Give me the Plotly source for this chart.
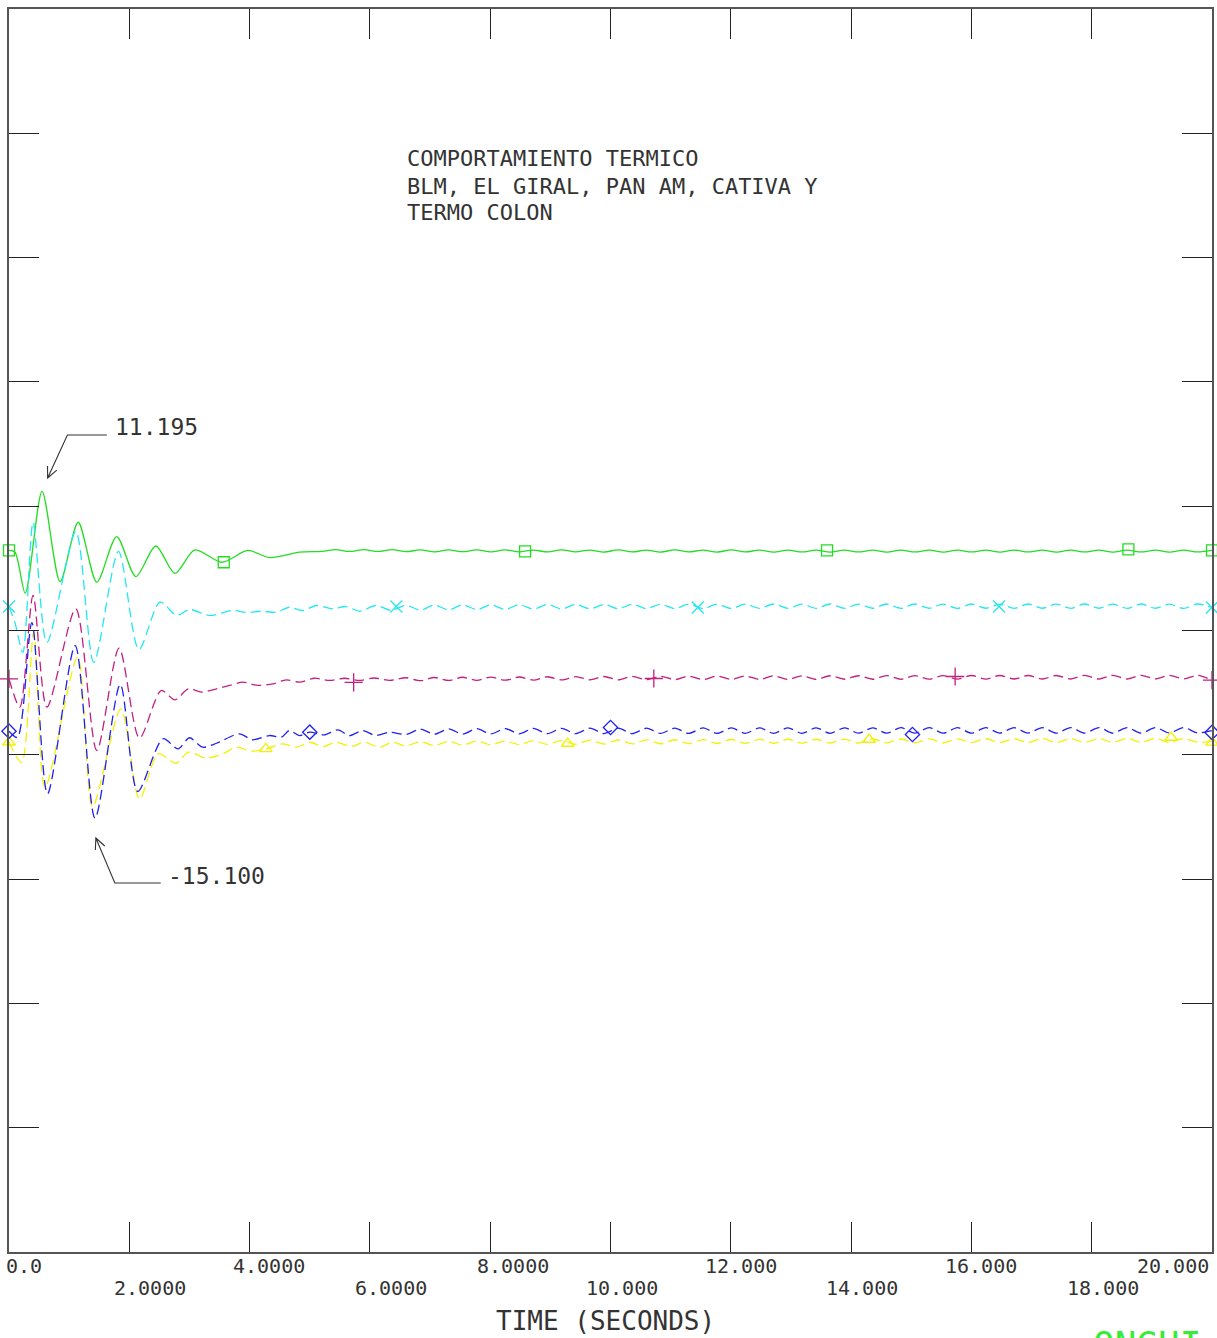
import plotly.graph_objects as go

# ---------------- data ----------------
# transient parts (time in s, value)
green_t = [0.00, 0.10, 0.27, 0.55, 0.85, 1.15, 1.46, 1.79, 2.11, 2.44, 2.76, 3.09, 3.54, 3.97, 4.33, 4.83,
           5.20, 5.43, 5.66, 5.90, 6.13, 6.37]
green_v = [6.44, 6.30, 3.00, 11.195, 3.94, 8.71, 3.89, 7.56, 4.34, 6.80, 4.60, 6.48, 5.49, 6.44, 5.87, 6.30,
           6.36, 6.50, 6.36, 6.50, 6.36, 6.50]

cyan_t = [0.00, 0.10, 0.23, 0.40, 0.63, 1.11, 1.41, 1.82, 2.16, 2.51, 2.79, 3.00, 3.34, 3.72, 3.95, 4.20,
          4.45, 4.66, 4.88, 5.11, 5.38, 5.60, 5.83, 6.10, 6.35]
cyan_v = [1.93, 0.60, -1.77, 8.69, -0.97, 7.96, -2.57, 6.36, -1.53, 2.28, 1.21, 1.69, 1.21, 1.61, 1.45, 1.55,
          1.47, 1.87, 1.61, 2.01, 1.75, 1.93, 1.55, 2.01, 1.62]

magenta_t = [0.00, 0.18, 0.40, 0.63, 1.11, 1.46, 1.83, 2.17, 2.53, 2.76, 2.98, 3.20, 3.45, 3.67, 3.89, 4.14,
             4.39, 4.61, 4.83, 5.08, 5.33, 5.58, 5.83, 6.07, 6.33]
magenta_v = [-3.89, -6.17, 2.82, -6.17, 1.75, -9.65, -1.41, -8.65, -4.83, -5.58, -4.69, -4.96, -4.69, -4.42,
             -4.16, -4.42, -4.29, -3.97, -4.16, -3.84, -4.02, -3.84, -4.02, -3.82, -4.02]

blue_t = [0.00, 0.14, 0.38, 0.64, 1.10, 1.43, 1.85, 2.14, 2.56, 2.81, 3.00, 3.22, 3.45, 3.83, 4.05, 4.33,
          4.53, 4.66, 4.83, 5.00, 5.24, 5.47, 5.66, 5.88, 6.10, 6.32]
blue_v = [-8.10, -8.60, 0.64, -13.14, -1.21, -15.10, -4.34, -12.95, -8.71, -9.52, -8.63, -9.39, -9.07, -8.31,
          -8.79, -8.45, -8.58, -8.05, -8.45, -8.18, -8.40, -7.99, -8.45, -8.05, -8.45, -8.18]

yellow_t = [0.00, 0.21, 0.41, 0.60, 1.14, 1.39, 1.86, 2.17, 2.48, 2.78, 2.98, 3.28, 3.56, 3.78, 4.03, 4.28,
            4.55, 4.78, 5.00, 5.22, 5.44, 5.69, 5.91, 6.16, 6.38]
yellow_v = [-8.99, -10.62, -0.16, -12.61, -2.15, -14.16, -6.30, -13.54, -9.92, -10.68, -9.79, -10.26, -9.92,
            -9.39, -9.71, -9.52, -9.12, -9.39, -8.99, -9.33, -8.99, -9.33, -8.99, -9.39, -8.99]

# steady-state ripple extrema (shared time grid)
steady_t = [6.60, 6.84, 7.07, 7.31, 7.54, 7.78, 8.01, 8.25, 8.48, 8.72,
            8.95, 9.19, 9.42, 9.66, 9.89, 10.13, 10.36, 10.60, 10.83, 11.07,
            11.30, 11.54, 11.77, 12.01, 12.24, 12.48, 12.71, 12.95, 13.18, 13.42,
            13.65, 13.89, 14.12, 14.36, 14.59, 14.83, 15.06, 15.30, 15.53, 15.77,
            16.00, 16.24, 16.47, 16.71, 16.94, 17.18, 17.41, 17.65, 17.88, 18.12,
            18.35, 18.59, 18.82, 19.06, 19.29, 19.53, 19.76, 20.00]
green_steady = [6.34, 6.49, 6.33, 6.48, 6.34, 6.49, 6.32, 6.48, 6.33, 6.47,
                6.32, 6.48, 6.33, 6.47, 6.31, 6.48, 6.32, 6.47, 6.31, 6.48,
                6.32, 6.47, 6.31, 6.48, 6.32, 6.47, 6.31, 6.46, 6.32, 6.47,
                6.31, 6.47, 6.32, 6.46, 6.31, 6.47, 6.32, 6.46, 6.31, 6.47,
                6.32, 6.46, 6.31, 6.47, 6.32, 6.46, 6.31, 6.47, 6.32, 6.46,
                6.31, 6.47, 6.32, 6.46, 6.31, 6.47, 6.32, 6.44]
cyan_steady = [2.02, 1.64, 2.04, 1.66, 2.06, 1.68, 2.07, 1.70, 2.08, 1.72,
               2.09, 1.73, 2.10, 1.74, 2.10, 1.75, 2.11, 1.76, 2.11, 1.76,
               2.12, 1.77, 2.12, 1.77, 2.12, 1.78, 2.13, 1.78, 2.12, 1.78,
               2.13, 1.78, 2.12, 1.79, 2.13, 1.78, 2.13, 1.79, 2.12, 1.78,
               2.13, 1.79, 2.12, 1.78, 2.13, 1.79, 2.12, 1.78, 2.13, 1.79,
               2.12, 1.78, 2.13, 1.79, 2.12, 1.78, 2.13, 1.85]
magenta_steady = [-3.80, -4.04, -3.78, -4.02, -3.76, -4.01, -3.75, -4.00, -3.74, -3.99,
                  -3.72, -3.98, -3.71, -3.97, -3.70, -3.97, -3.69, -3.96, -3.68, -3.95,
                  -3.67, -3.95, -3.66, -3.94, -3.66, -3.94, -3.65, -3.93, -3.65, -3.93,
                  -3.64, -3.92, -3.64, -3.92, -3.63, -3.92, -3.63, -3.91, -3.63, -3.91,
                  -3.62, -3.91, -3.62, -3.90, -3.62, -3.90, -3.62, -3.90, -3.61, -3.90,
                  -3.61, -3.90, -3.61, -3.89, -3.61, -3.89, -3.61, -3.99]
blue_steady = [-8.36, -7.94, -8.34, -7.92, -8.33, -7.90, -8.32, -7.89, -8.31, -7.88,
               -8.30, -7.87, -8.30, -7.86, -8.29, -7.86, -8.29, -7.85, -8.28, -7.85,
               -8.28, -7.84, -8.28, -7.84, -8.27, -7.84, -8.27, -7.83, -8.27, -7.83,
               -8.27, -7.83, -8.26, -7.83, -8.26, -7.82, -8.26, -7.82, -8.26, -7.82,
               -8.26, -7.82, -8.25, -7.82, -8.25, -7.81, -8.25, -7.81, -8.25, -7.81,
               -8.25, -7.81, -8.25, -7.81, -8.24, -7.81, -8.24, -8.05]
yellow_steady = [-9.28, -8.94, -9.25, -8.92, -9.22, -8.90, -9.20, -8.88, -9.18, -8.86,
                 -9.16, -8.84, -9.15, -8.82, -9.13, -8.81, -9.12, -8.80, -9.11, -8.79,
                 -9.10, -8.78, -9.09, -8.77, -9.08, -8.76, -9.07, -8.75, -9.06, -8.75,
                 -9.05, -8.74, -9.05, -8.73, -9.04, -8.73, -9.03, -8.72, -9.03, -8.72,
                 -9.02, -8.71, -9.02, -8.71, -9.01, -8.70, -9.01, -8.70, -9.00, -8.70,
                 -9.00, -8.69, -9.00, -8.69, -8.99, -8.69, -8.99, -8.92]

# symbol markers along each curve
green_mk_t = [0.00, 3.57, 8.58, 13.60, 18.61, 20.00]
green_mk_v = [6.44, 5.49, 6.36, 6.44, 6.52, 6.44]
cyan_mk_t = [0.00, 6.44, 11.45, 16.46, 20.00]
cyan_mk_v = [1.93, 1.93, 1.85, 1.93, 1.85]
magenta_mk_t = [0.00, 5.73, 10.72, 15.73, 20.00]
magenta_mk_v = [-3.89, -4.18, -3.86, -3.70, -3.99]
blue_mk_t = [0.00, 5.00, 10.00, 15.02, 20.00]
blue_mk_v = [-8.10, -8.18, -7.80, -8.37, -8.20]
yellow_mk_t = [0.00, 4.27, 9.29, 14.30, 19.32, 20.00]
yellow_mk_v = [-8.99, -9.52, -9.09, -8.77, -8.61, -9.00]

x_tick_vals = [0, 2, 4, 6, 8, 10, 12, 14, 16, 18, 20]
x_tick_text = ["0.0", "2.0000", "4.0000", "6.0000", "8.0000", "10.000",
               "12.000", "14.000", "16.000", "18.000", "20.000"]
title_lines = ["COMPORTAMIENTO TERMICO", "BLM, EL GIRAL, PAN AM, CATIVA Y", "TERMO COLON"]
max_label = "11.195"
min_label = "-15.100"
x_title = "TIME (SECONDS)"

# ---------------- layout geometry ----------------
W, H = 1217, 1338
ML, MR, MT, MB = 9, 3, 9, 86
PW, PH = W - ML - MR, H - MT - MB
FONT = "DejaVu Sans Mono"
INK = "#333333"


def px_x(p):
    return (p - ML) / PW


def px_y(p):
    return (H - MB - p) / PH


fig = go.Figure()

series = [
    ("green", green_t, green_v, green_steady, green_mk_t, green_mk_v, "#22dd22", "solid", "square-open", 11),
    ("cyan", cyan_t, cyan_v, cyan_steady, cyan_mk_t, cyan_mk_v, "#22e8f2", "10px,5px", "x-thin-open", 12),
    ("magenta", magenta_t, magenta_v, magenta_steady, magenta_mk_t, magenta_mk_v, "#c41e80", "10px,5px",
     "cross-thin-open", 13),
    ("yellow", yellow_t, yellow_v, yellow_steady, yellow_mk_t, yellow_mk_v, "#f2f200", "10px,5px",
     "triangle-up-open", 11),
    ("blue", blue_t, blue_v, blue_steady, blue_mk_t, blue_mk_v, "#2020f0", "10px,5px", "diamond-open", 11),
]

for name, tt, vv, vs, mt, mv, col, dash, sym, msz in series:
    fig.add_trace(go.Scatter(
        x=list(tt) + list(steady_t), y=list(vv) + list(vs), mode="lines",
        line=dict(color=col, width=1.3, dash=dash, shape="spline", smoothing=0.8),
        name=name, showlegend=False, hoverinfo="skip"))
    fig.add_trace(go.Scatter(
        x=mt, y=mv, mode="markers", cliponaxis=False,
        marker=dict(symbol=sym, size=msz, color=col, line=dict(color=col, width=1.3)),
        showlegend=False, hoverinfo="skip"))

axis_common = dict(showgrid=False, zeroline=False, showline=True, mirror="allticks",
                   ticks="inside", ticklen=30, tickwidth=1.2, tickcolor="#222",
                   linecolor="#555", linewidth=1.6, showticklabels=False)
fig.update_xaxes(range=[0, 20], tick0=0, dtick=2, **axis_common)
fig.update_yaxes(range=[-50, 50], tick0=0, dtick=10, **axis_common)

annotations = []
# x tick labels in two staggered rows
label_shift = [15, 21, 19, 21, 23, 11, 10, 11, 10, 11, 0]
for i, (tv, tx) in enumerate(zip(x_tick_vals, x_tick_text)):
    row_y = px_y(1266) if i % 2 == 0 else px_y(1288)
    if i == len(x_tick_vals) - 1:
        annotations.append(dict(x=tv, y=row_y, xref="x", yref="paper", text=tx, showarrow=False,
                                xanchor="right", yanchor="middle", xshift=-1,
                                font=dict(family=FONT, size=20, color=INK)))
    else:
        annotations.append(dict(x=tv, y=row_y, xref="x", yref="paper", text=tx, showarrow=False,
                                xanchor="center", yanchor="middle", xshift=label_shift[i],
                                font=dict(family=FONT, size=20, color=INK)))

annotations.append(dict(x=px_x(606), y=px_y(1321), xref="paper", yref="paper", text=x_title,
                        showarrow=False, xanchor="center", yanchor="middle",
                        font=dict(family=FONT, size=26, color=INK)))

for line_txt, cy in zip(title_lines, [159, 186, 212]):
    annotations.append(dict(x=px_x(406), y=px_y(cy), xref="paper", yref="paper", text=line_txt,
                            showarrow=False, xanchor="left", yanchor="middle",
                            font=dict(family=FONT, size=22, color=INK)))

annotations.append(dict(x=px_x(113), y=px_y(427), xref="paper", yref="paper", text=max_label,
                        showarrow=False, xanchor="left", yanchor="middle",
                        font=dict(family=FONT, size=23, color=INK)))
annotations.append(dict(x=px_x(166), y=px_y(876), xref="paper", yref="paper", text=min_label,
                        showarrow=False, xanchor="left", yanchor="middle",
                        font=dict(family=FONT, size=23, color=INK)))

annotations.append(dict(x=px_x(1093), y=px_y(1345), xref="paper", yref="paper", text="ONGUI",
                        showarrow=False, xanchor="left", yanchor="middle",
                        font=dict(family=FONT, size=36, color="#33ee33")))


def leader_path(pts_main, tip, arm1, arm2):
    s = "M {:.5f} {:.5f}".format(px_x(pts_main[0][0]), px_y(pts_main[0][1]))
    for p in pts_main[1:]:
        s += " L {:.5f} {:.5f}".format(px_x(p[0]), px_y(p[1]))
    s += " M {:.5f} {:.5f} L {:.5f} {:.5f} L {:.5f} {:.5f}".format(
        px_x(arm1[0]), px_y(arm1[1]), px_x(tip[0]), px_y(tip[1]), px_x(arm2[0]), px_y(arm2[1]))
    return s


shapes = [
    dict(type="path", xref="paper", yref="paper",
         path=leader_path([(107, 435), (67.5, 435), (47.7, 478)], (47.7, 478), (47.6, 466), (56.9, 470.2)),
         line=dict(color=INK, width=1.1)),
    dict(type="path", xref="paper", yref="paper",
         path=leader_path([(161, 883), (115, 883), (96, 838)], (96, 838), (95.5, 850), (104.9, 846)),
         line=dict(color=INK, width=1.1)),
]

fig.update_layout(
    width=W, height=H, margin=dict(l=ML, r=MR, t=MT, b=MB, pad=0),
    paper_bgcolor="white", plot_bgcolor="white",
    annotations=annotations, shapes=shapes, showlegend=False,
)

fig.write_html("out.html", config={"displayModeBar": False},
               post_script="document.body.style.margin='0';document.body.style.overflow='hidden';")
